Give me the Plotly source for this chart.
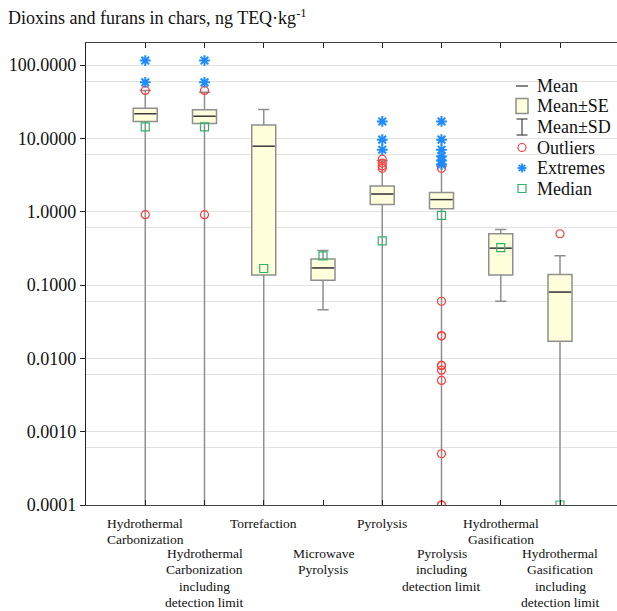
import plotly.graph_objects as go

# ---------------- data ----------------
categories = [
    "Hydrothermal<br>Carbonization",
    "Hydrothermal<br>Carbonization<br>including<br>detection limit",
    "Torrefaction",
    "Microwave<br>Pyrolysis",
    "Pyrolysis",
    "Pyrolysis<br>including<br>detection limit",
    "Hydrothermal<br>Gasification",
    "Hydrothermal<br>Gasification<br>including<br>detection limit",
]
means = [21.7, 20.0, 7.8, 0.171, 1.74, 1.46, 0.318, 0.080]
se_high = [25.7, 24.6, 15.2, 0.227, 2.24, 1.82, 0.50, 0.139]
se_low = [17.0, 15.9, 0.137, 0.116, 1.25, 1.10, 0.137, 0.0171]
sd_high = [45.0, 42.4, 24.8, 0.296, 5.0, 4.2, 0.57, 0.25]
sd_low = [None, None, None, 0.046, None, None, 0.060, None]  # None: below zero
medians = [14.3, 14.3, 0.168, 0.25, 0.40, 0.89, 0.324, 0.0001]
outliers = [
    [45.0, 0.91],
    [45.0, 0.91],
    [],
    [],
    [5.2, 4.6, 4.2, 3.9],
    [3.9, 0.060, 0.0203, 0.0203, 0.0080, 0.0080, 0.0069, 0.0050, 0.00050, 0.0001, 0.0001],
    [],
    [0.50],
]
extremes = [
    [115.0, 58.0],
    [115.0, 58.0],
    [],
    [],
    [17.0, 9.6, 7.0],
    [17.0, 9.6, 7.0, 5.7, 5.0, 4.4],
    [],
    [],
]
ytick_vals = [0.0001, 0.001, 0.01, 0.1, 1, 10, 100]
ytick_text = ["0.0001", "0.0010", "0.0100", "0.1000", "1.0000", "10.0000", "100.0000"]
minor_grid_vals = [0.0006, 0.006, 0.06, 0.6, 6, 60]
legend_labels = ["Mean", "Mean±SE", "Mean±SD", "Outliers", "Extremes", "Median"]
title_text = "Dioxins and furans in chars, ng TEQ·kg<sup>-1</sup>"

# ---------------- styling / layout constants ----------------
FONT = "Liberation Serif"
FIG_W, FIG_H = 617, 611
L, T, R, BM = 86, 43, 0, 106
PW, PH = FIG_W - L - R, FIG_H - T - BM
PX_PER_CAT = 59.25
XMIN = -1.0
XMAX = XMIN + PW / PX_PER_CAT
BOX_W = 0.405
FLOOR = 1e-7  # lower SD below zero -> whisker runs to the axis bottom

BOX_FILL = "#ffffdc"
BOX_LINE = "#8f8f8f"
RED = "#ff3b3b"
BLUE = "#1e8cff"
GREEN = "#2fb36a"

xs = list(range(len(categories)))

fig = go.Figure()

# Mean±SE box with Mean±SD whiskers
fig.add_trace(go.Box(
    x=xs,
    q1=se_low,
    q3=se_high,
    median=means,
    lowerfence=[v if v is not None else FLOOR for v in sd_low],
    upperfence=sd_high,
    width=BOX_W,
    whiskerwidth=0.47,
    fillcolor=BOX_FILL,
    line=dict(color=BOX_LINE, width=1.5),
    boxpoints=False,
    showlegend=False,
    hoverinfo="skip",
))

# Mean line (darker) drawn over the box
mx, my = [], []
for i, m in zip(xs, means):
    mx += [i - BOX_W / 2 + 0.02, i + BOX_W / 2 - 0.02, None]
    my += [m, m, None]
fig.add_trace(go.Scatter(x=mx, y=my, mode="lines",
                         line=dict(color="#333333", width=1.2),
                         showlegend=False, hoverinfo="skip"))

# Medians
fig.add_trace(go.Scatter(x=xs, y=medians, mode="markers",
                         marker=dict(symbol="square-open", size=8,
                                     color=GREEN, line=dict(width=1.2)),
                         showlegend=False, hoverinfo="skip"))

# Outliers
ox, oy = [], []
for i, vals in zip(xs, outliers):
    ox += [i] * len(vals)
    oy += vals
fig.add_trace(go.Scatter(x=ox, y=oy, mode="markers",
                         marker=dict(symbol="circle-open", size=8,
                                     color=RED, line=dict(width=1.2)),
                         showlegend=False, hoverinfo="skip"))

# Extremes
ex, ey = [], []
for i, vals in zip(xs, extremes):
    ex += [i] * len(vals)
    ey += vals
fig.add_trace(go.Scatter(x=ex, y=ey, mode="markers",
                         marker=dict(symbol="asterisk-open", size=9,
                                     color=BLUE, line=dict(width=2, color=BLUE)),
                         showlegend=False, hoverinfo="skip"))

# ---------------- category labels (one annotation per line) ----------------
AXIS_BOTTOM_PX = T + PH
LINE_H = 16.5
annotations = []
for i, lab in enumerate(categories):
    first_center = 523 if i % 2 == 0 else 553
    for k, line in enumerate(lab.split("<br>")):
        center = first_center + k * LINE_H
        annotations.append(dict(
            x=i, xref="x", y=0, yref="paper",
            yanchor="middle", xanchor="center",
            yshift=-(center - AXIS_BOTTOM_PX),
            text=line, showarrow=False, align="center",
            font=dict(family=FONT, size=13.5, color="#111111"),
        ))

# ---------------- manual legend ----------------
def px_x(p):
    return (p - L) / PW


def px_y(p):
    return (T + PH - p) / PH


shapes = []
icon_x = 522
text_x = 535
rows = [86, 106, 127, 147.5, 168, 188.5]
# Mean
shapes.append(dict(type="line", xref="paper", yref="paper",
                   x0=px_x(516), x1=px_x(528), y0=px_y(rows[0]), y1=px_y(rows[0]),
                   line=dict(color="#333333", width=1.2)))
# Mean±SE
shapes.append(dict(type="rect", xref="paper", yref="paper",
                   x0=px_x(516), x1=px_x(528), y0=px_y(rows[1] - 7.5), y1=px_y(rows[1] + 7.5),
                   fillcolor=BOX_FILL, line=dict(color=BOX_LINE, width=1.5)))
# Mean±SD
shapes.append(dict(type="line", xref="paper", yref="paper",
                   x0=px_x(icon_x), x1=px_x(icon_x), y0=px_y(rows[2] - 8), y1=px_y(rows[2] + 8),
                   line=dict(color="#444444", width=1.2)))
for dy in (-8, 8):
    shapes.append(dict(type="line", xref="paper", yref="paper",
                       x0=px_x(516.5), x1=px_x(527.5), y0=px_y(rows[2] + dy), y1=px_y(rows[2] + dy),
                       line=dict(color="#444444", width=1.2)))
# Outliers
shapes.append(dict(type="circle", xref="paper", yref="paper",
                   x0=px_x(icon_x - 4), x1=px_x(icon_x + 4),
                   y0=px_y(rows[3] - 4), y1=px_y(rows[3] + 4),
                   line=dict(color=RED, width=1.2)))
# Extremes (asterisk)
for (dx, dy) in [(0, 4.5), (4.5, 0), (3.2, 3.2), (3.2, -3.2)]:
    shapes.append(dict(type="line", xref="paper", yref="paper",
                       x0=px_x(icon_x - dx), x1=px_x(icon_x + dx),
                       y0=px_y(rows[4] - dy), y1=px_y(rows[4] + dy),
                       line=dict(color=BLUE, width=1.8)))
# Median
shapes.append(dict(type="rect", xref="paper", yref="paper",
                   x0=px_x(icon_x - 4), x1=px_x(icon_x + 4),
                   y0=px_y(rows[5] - 4), y1=px_y(rows[5] + 4),
                   line=dict(color=GREEN, width=1.2)))
for lab, r in zip(legend_labels, rows):
    annotations.append(dict(
        x=px_x(text_x), xref="paper", y=px_y(r), yref="paper",
        xanchor="left", yanchor="middle", text=lab, showarrow=False,
        font=dict(family=FONT, size=18, color="#111111"),
    ))

fig.update_layout(
    width=FIG_W, height=FIG_H,
    margin=dict(l=L, r=R, t=T, b=BM, pad=0),
    paper_bgcolor="white", plot_bgcolor="white",
    title=dict(text=title_text, x=8 / FIG_W, xref="container", xanchor="left",
               y=1 - 18 / FIG_H, yref="container", yanchor="middle",
               font=dict(family=FONT, size=18, color="#111111")),
    annotations=annotations,
    shapes=shapes,
    showlegend=False,
)
fig.update_xaxes(
    range=[XMIN, XMAX], tickmode="array", tickvals=xs, showticklabels=False,
    ticks="inside", ticklen=5, tickcolor="#222222",
    showline=True, linecolor="#444444", linewidth=1.2, mirror="ticks",
    showgrid=False, zeroline=False,
)
fig.update_yaxes(
    type="log", range=[-4, 2.3], tickmode="array",
    tickvals=ytick_vals, ticktext=ytick_text,
    ticks="outside", ticklen=5, tickcolor="#222222",
    tickfont=dict(family=FONT, size=18, color="#111111"),
    showline=True, linecolor="#222222", linewidth=1.2,
    showgrid=True, gridcolor="#e2e2e2", gridwidth=1.3,
    minor=dict(tickmode="array", tickvals=minor_grid_vals, showgrid=True,
               gridcolor="#e2e2e2", gridwidth=1.3, ticks=""),
    zeroline=False,
)

fig.write_html("out.html")
